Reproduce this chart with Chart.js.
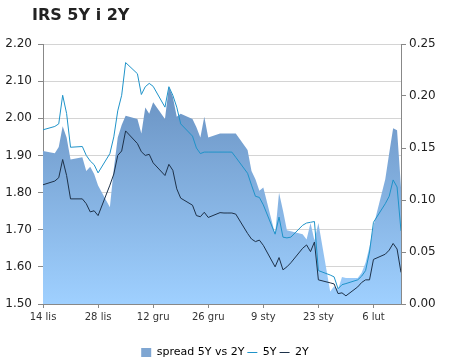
<!DOCTYPE html>
<html>
<head>
<meta charset="utf-8">
<script src="https://cdn.jsdelivr.net/npm/chart.js@4"></script>
<style>
  html, body { margin: 0; padding: 0; background: #fff; }
  #wrap { position: relative; width: 450px; height: 363px; overflow: hidden; }
  #title { position: absolute; left: 32px; top: 5px; font: bold 16px "DejaVu Sans", Verdana, sans-serif; color: #222; }
</style>
</head>
<body>
<div id="wrap">
  <div id="title">IRS 5Y i 2Y</div>
  <canvas id="wykres" width="450" height="363"></canvas>
</div>
<script>
// dni od 14 lis (dni robocze)
var days = [0,
  3, 4, 5, 6, 7,
  10, 11, 12, 13, 14,
  17, 18, 19, 20, 21,
  24, 25, 26, 27, 28,
  31, 32, 33, 34, 35,
  38, 39, 40, 41, 42,
  45, 46, 47, 48, 49,
  52, 53, 54, 55, 56,
  59, 60, 61, 62, 63,
  66, 67, 68, 69, 70,
  73, 74, 75, 76, 77,
  80, 81, 82, 83, 84,
  87, 88, 89, 90, 91];

var irs5y = [1.969,
  1.978, 1.985, 2.062, 2.013, 1.922,
  1.924, 1.900, 1.885, 1.875, 1.853,
  1.905, 1.950, 2.020, 2.062, 2.150,
  2.120, 2.064, 2.085, 2.094, 2.086,
  2.030, 2.085, 2.062, 2.030, 1.985,
  1.952, 1.920, 1.905, 1.909, 1.909,
  1.909, 1.909, 1.909, 1.909, 1.895,
  1.852, 1.820, 1.790, 1.787, 1.767,
  1.688, 1.734, 1.680, 1.678, 1.680,
  1.712, 1.718, 1.720, 1.722, 1.590,
  1.578, 1.573, 1.541, 1.552, 1.555,
  1.565, 1.575, 1.590, 1.640, 1.720,
  1.770, 1.790, 1.834, 1.815, 1.697];

var irs2y = [1.821,
  1.831, 1.840, 1.889, 1.846, 1.783,
  1.783, 1.770, 1.748, 1.751, 1.738,
  1.820, 1.850, 1.900, 1.912, 1.966,
  1.932, 1.910, 1.900, 1.903, 1.880,
  1.846, 1.876, 1.860, 1.810, 1.785,
  1.766, 1.738, 1.735, 1.747, 1.733,
  1.746, 1.745, 1.745, 1.745, 1.742,
  1.690, 1.675, 1.668, 1.672, 1.658,
  1.600, 1.625, 1.592, 1.600, 1.611,
  1.650, 1.659, 1.641, 1.667, 1.565,
  1.557, 1.554, 1.528, 1.530, 1.522,
  1.546, 1.558, 1.565, 1.565, 1.620,
  1.634, 1.645, 1.663, 1.648, 1.585];

var spread = [0.147,
  0.145, 0.151, 0.171, 0.160, 0.139,
  0.141, 0.128, 0.132, 0.125, 0.114,
  0.093, 0.130, 0.160, 0.172, 0.181,
  0.178, 0.164, 0.189, 0.183, 0.194,
  0.178, 0.209, 0.199, 0.180, 0.183,
  0.178, 0.170, 0.160, 0.180, 0.160,
  0.164, 0.164, 0.164, 0.164, 0.164,
  0.148, 0.128, 0.120, 0.109, 0.112,
  0.067, 0.107, 0.090, 0.071, 0.070,
  0.067, 0.062, 0.078, 0.061, 0.078,
  0.012, 0.017, 0.014, 0.026, 0.025,
  0.025, 0.030, 0.040, 0.055, 0.075,
  0.120, 0.145, 0.169, 0.167, 0.112];

// etykiety osi X co 14 dni
var xLabels = ["14 lis", "28 lis", "12 gru", "26 gru", "9 sty", "23 sty", "6 lut"];

function pary(ys) {
  var out = [];
  for (var i = 0; i < days.length; i++) {
    out.push({ x: days[i], y: ys[i] });
  }
  return out;
}

// gradient dla pola spreadu
function gradient(ctx) {
  var area = ctx.chart.chartArea;
  if (!area) return "#7fa9d6";
  var g = ctx.chart.ctx.createLinearGradient(0, area.top, 0, area.bottom);
  g.addColorStop(0, "#5f86b6");
  g.addColorStop(1, "#9fd0ff");
  return g;
}

var font = { family: "'DejaVu Sans', Verdana, sans-serif" };

new Chart(document.getElementById("wykres"), {
  type: "line",
  data: {
    datasets: [{
      label: "spread 5Y vs 2Y",
      data: pary(spread),
      yAxisID: "y2",
      backgroundColor: gradient,
      borderWidth: 0,
      fill: "origin",
      pointRadius: 0,
      tension: 0,
      order: 10
    }, {
      label: "5Y",
      data: pary(irs5y),
      yAxisID: "y",
      borderColor: "#1f93c9",
      borderWidth: 1,
      pointRadius: 0,
      fill: false,
      order: 1
    }, {
      label: "2Y",
      data: pary(irs2y),
      yAxisID: "y",
      borderColor: "#1d3149",
      borderWidth: 1,
      pointRadius: 0,
      fill: false,
      order: 0
    }]
  },
  options: {
    responsive: false,
    animation: false,
    layout: { padding: { top: 44, left: 0, right: 0, bottom: -5 } },
    plugins: {
      tooltip: { enabled: false },
      legend: {
        position: "bottom",
        labels: {
          font: { family: font.family, size: 11 },
          color: "#333",
          usePointStyle: true,
          pointStyleWidth: 10,
          boxHeight: 9,
          padding: 3,
          generateLabels: function(chart) {
            return [
              { text: "spread 5Y vs 2Y", pointStyle: "rect", fillStyle: "#7fa6d2", strokeStyle: "#7fa6d2", lineWidth: 0, datasetIndex: 0 },
              { text: "5Y", pointStyle: "line", fillStyle: "#1f93c9", strokeStyle: "#1f93c9", lineWidth: 1, datasetIndex: 1 },
              { text: "2Y", pointStyle: "line", fillStyle: "#1d3149", strokeStyle: "#1d3149", lineWidth: 1, datasetIndex: 2 }
            ];
          }
        }
      }
    },
    scales: {
      x: {
        type: "linear",
        min: 0,
        max: 91,
        ticks: {
          stepSize: 14,
          autoSkip: false,
          maxRotation: 0,
          padding: 3,
          color: "#333",
          font: { family: font.family, size: 10 },
          callback: function(v) { return xLabels[v / 14]; }
        },
        grid: { drawOnChartArea: false, tickLength: 4, color: "#888" },
        border: { color: "#888" },
        afterFit: function(s) { s.height = 40; }
      },
      y: {
        position: "left",
        min: 1.5,
        max: 2.2,
        ticks: {
          stepSize: 0.1,
          padding: 6,
          color: "#222",
          font: { family: font.family, size: 12 },
          callback: function(v) { return v.toFixed(2); }
        },
        grid: { color: "#d4d4d4", tickLength: 5, tickColor: "#888" },
        border: { color: "#888" },
        afterFit: function(s) { s.width = 43; }
      },
      y2: {
        position: "right",
        min: 0,
        max: 0.25,
        ticks: {
          stepSize: 0.05,
          padding: 3,
          color: "#222",
          font: { family: font.family, size: 12 },
          callback: function(v) { return v.toFixed(2); }
        },
        grid: { drawOnChartArea: false, tickLength: 5, color: "#888" },
        border: { color: "#888" },
        afterFit: function(s) { s.width = 49; }
      }
    }
  }
});
</script>
</body>
</html>
